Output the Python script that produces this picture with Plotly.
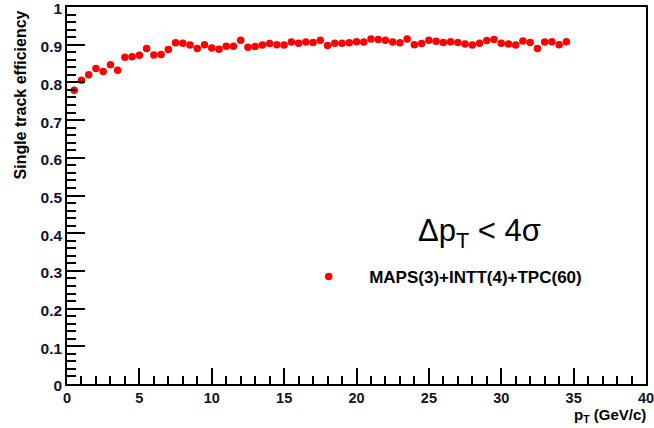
import plotly.graph_objects as go

# Transverse momentum bin centres (GeV/c)
pt = [0.5 * i for i in range(1, 70)]

# Single-track efficiency per pT bin
efficiency = [
    0.779, 0.806, 0.820, 0.837, 0.829, 0.847, 0.832, 0.867, 0.868, 0.872,
    0.890, 0.873, 0.874, 0.887, 0.905, 0.904, 0.899, 0.890, 0.900, 0.891,
    0.888, 0.896, 0.896, 0.912, 0.893, 0.895, 0.899, 0.903, 0.900, 0.899,
    0.907, 0.904, 0.907, 0.906, 0.912, 0.898, 0.904, 0.904, 0.905, 0.908,
    0.907, 0.915, 0.914, 0.912, 0.907, 0.905, 0.915, 0.900, 0.903, 0.912,
    0.909, 0.906, 0.908, 0.906, 0.902, 0.899, 0.904, 0.911, 0.914, 0.904,
    0.902, 0.899, 0.910, 0.906, 0.890, 0.907, 0.908, 0.900, 0.908,
]

series_name = "MAPS(3)+INTT(4)+TPC(60)"
cut_label = "Δp<sub>T</sub> < 4σ"
x_title = "p<sub>T</sub> (GeV/c)"
y_title = "Single track efficiency"

SANS = "Liberation Sans, Arial, sans-serif"

fig = go.Figure()
fig.add_trace(go.Scatter(
    x=pt, y=efficiency, mode="markers", name=series_name,
    marker=dict(color="#ff0000", size=7.5, line=dict(width=0)),
))

axis_common = dict(
    showgrid=False, zeroline=False, showline=True, linecolor="#000000",
    linewidth=1.5, mirror=True, ticks="inside", tickcolor="#000000",
    tickwidth=1.5, automargin=False, ticklabeloverflow="allow",
)

fig.update_layout(
    width=654, height=428,
    margin=dict(l=67, r=8, t=7, b=44, autoexpand=False),
    paper_bgcolor="#ffffff", plot_bgcolor="#ffffff",
    showlegend=True,
    legend=dict(
        x=0.382, y=0.284, xanchor="left", yanchor="middle",
        itemwidth=71,
        bgcolor="rgba(0,0,0,0)", borderwidth=0,
        font=dict(family=SANS, size=17, color="#000000", weight="bold"),
    ),
    xaxis=dict(
        range=[0, 40], tick0=0, dtick=5, ticklen=16,
        minor=dict(ticks="inside", dtick=1, ticklen=8, tickcolor="#000000", tickwidth=1.5),
        tickfont=dict(family=SANS, size=14.5, color="#111122", weight="bold"),
        **axis_common,
    ),
    yaxis=dict(
        range=[0, 1], tick0=0, dtick=0.1, ticklen=18,
        minor=dict(ticks="inside", dtick=0.02, ticklen=9, tickcolor="#000000", tickwidth=1.5),
        tickfont=dict(family=SANS, size=15.5, color="#111133", weight="bold"),
        ticklabelshift=2,
        **axis_common,
    ),
    annotations=[
        dict(
            text=y_title, textangle=-90, xref="paper", yref="paper",
            x=-0.081, y=0.995, xanchor="center", yanchor="top", showarrow=False,
            font=dict(family=SANS, size=16, color="#000000", weight="bold"),
        ),
        dict(
            text=x_title, xref="paper", yref="paper",
            x=1.003, y=-0.084, xanchor="right", yanchor="middle", showarrow=False,
            font=dict(family=SANS, size=15, color="#000000", weight="bold"),
        ),
        dict(
            text=cut_label, xref="paper", yref="paper",
            x=0.713, y=0.40, xanchor="center", yanchor="middle", showarrow=False,
            font=dict(family=SANS, size=31, color="#000000"),
        ),
    ],
)

fig.write_html("out.html")
